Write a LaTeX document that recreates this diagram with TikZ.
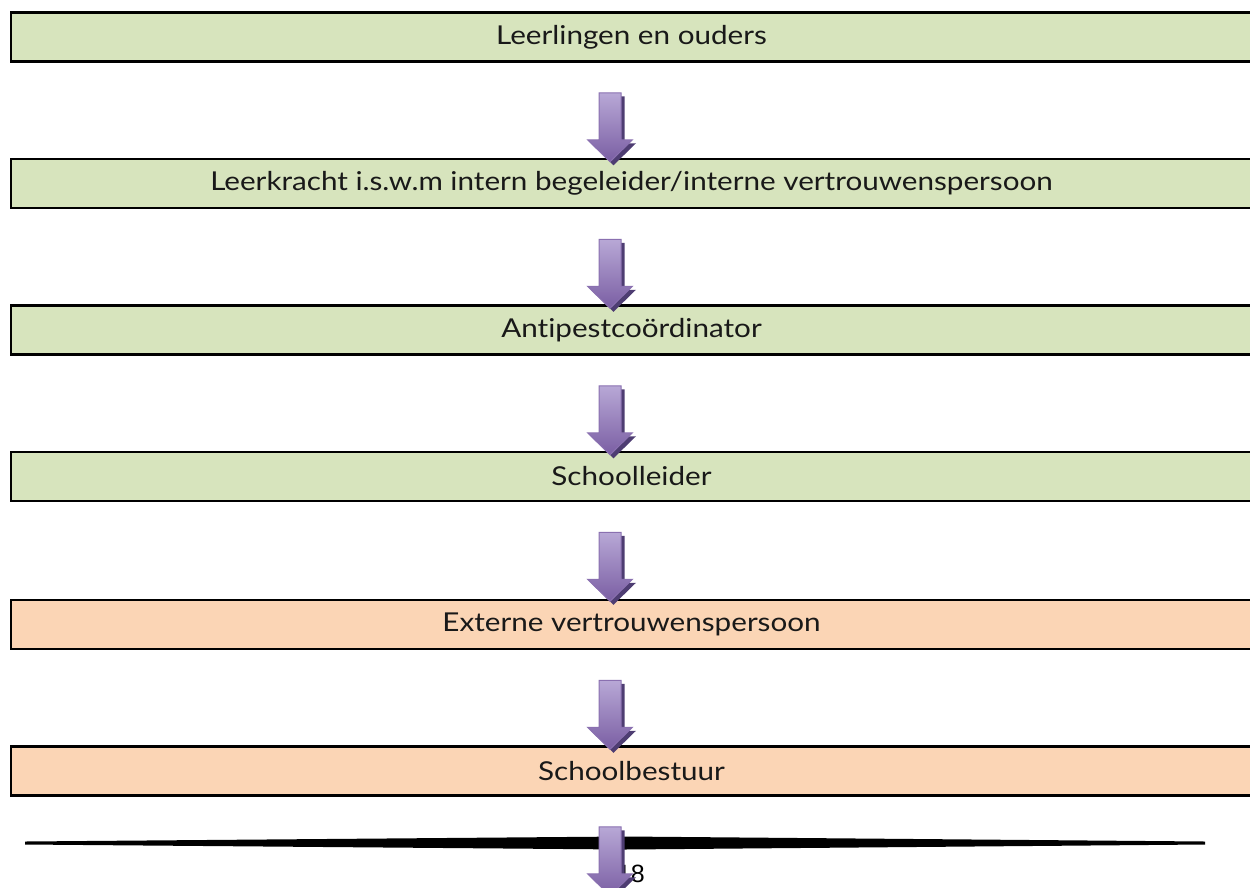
\documentclass[tikz,border=0pt]{standalone}
\usepackage{fontspec}
\setmainfont{Lato}[FakeStretch=1.14, Ligatures={NoCommon}]
\newfontfamily\numfont{Liberation Sans}
\usetikzlibrary{calc}
\definecolor{boxgreen}{HTML}{D7E4BD}
\definecolor{boxorange}{HTML}{FBD5B5}
\definecolor{arrtop}{HTML}{B8A8D6}
\definecolor{arrbot}{HTML}{7A5EA3}
\definecolor{arredge}{HTML}{8A70B0}
\definecolor{arrshadow}{HTML}{4E3D72}
\tikzset{
  flowbox/.style={draw=black, line width=2.5pt, minimum width=1241pt, minimum height=49pt,
    inner sep=0pt, font=\fontsize{26}{30}\selectfont, text=black!90},
  greenbox/.style={flowbox, fill=boxgreen},
  orangebox/.style={flowbox, fill=boxorange},
  darr/.pic={
    \fill[arrshadow] (-7.5,3.5)--(14.5,3.5)--(14.5,50.5)--(26,50.5)--(3.5,72.5)--(-19,50.5)--(-7.5,50.5)--cycle;
    \path[top color=arrtop, bottom color=arrbot, draw=arredge, line width=1pt]
      (-11,0)--(11,0)--(11,47)--(22.5,47)--(0,69)--(-22.5,47)--(-11,47)--cycle;
  }
}
\begin{document}
\begin{tikzpicture}[x=1pt,y=-1pt]
\useasboundingbox (0,0) rectangle (1250,887);
\coordinate (ax) at (610,0);
\node[greenbox] (b1) at (631.5,37) {Leerlingen en ouders};
\node[greenbox] (b2) at (631.5,183.5) {Leerkracht i.s.w.m intern begeleider/interne vertrouwenspersoon};
\node[greenbox] (b3) at (631.5,330) {Antipestcoördinator};
\node[greenbox] (b4) at (631.5,476.5) {Schoolleider};
\node[orangebox] (b5) at (631.5,624.5) {Externe vertrouwenspersoon};
\node[orangebox] (b6) at (631.5,771) {Schoolbestuur};
% footer rule and page number
\coordinate (rl) at (25,843);
\coordinate (rr) at (1205,843);
\fill[black] ($(rl)+(0,-1.5)$) -- (625,836.5) -- ($(rr)+(0,-1.5)$) -- ($(rr)+(0,1.5)$) -- (625,849.5) -- ($(rl)+(0,1.5)$) -- cycle;
\node[anchor=base east, inner sep=0pt, font=\numfont\fontsize{25}{28}\selectfont] (pg) at (645,882) {18};
% block arrows
\foreach \b in {b1,b2,b3,b4,b5,b6}{
  \pic at ($(\b.south -| ax)+(0,30)$) {darr};
}
\end{tikzpicture}
\end{document}
